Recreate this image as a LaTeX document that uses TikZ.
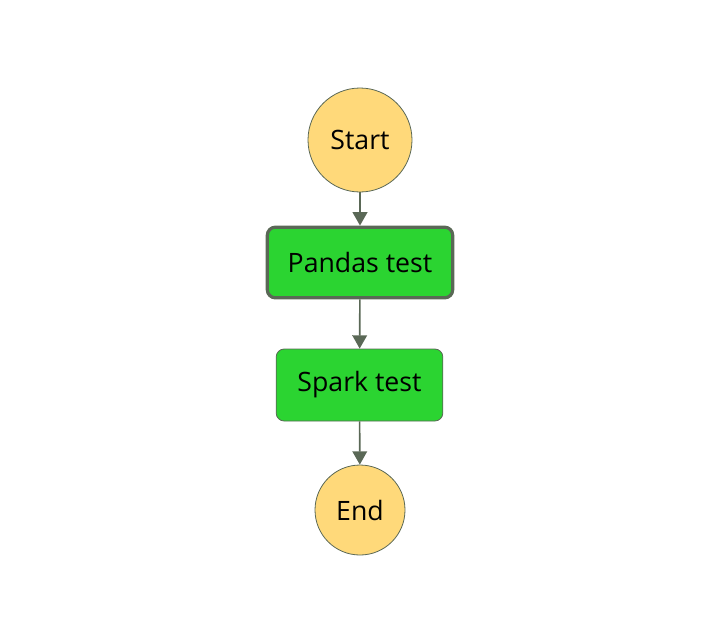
\documentclass[tikz,border=0pt]{standalone}
\usepackage{fontspec}
\setmainfont{Open Sans}
\usetikzlibrary{arrows.meta}
\definecolor{startyellow}{HTML}{FFD97A}
\definecolor{taskgreen}{HTML}{2BD431}
\definecolor{edgegray}{HTML}{5A6856}
\tikzset{
  terminal/.style={circle, draw=edgegray, fill=startyellow, line width=0.6pt, inner sep=0pt, font=\fontsize{20}{24}\selectfont},
  task/.style={rectangle, rounded corners=6pt, draw=edgegray, fill=taskgreen, line width=0.6pt, font=\fontsize{20}{24}\selectfont},
  flow/.style={draw=edgegray, line width=1.2pt, -{Triangle[length=10pt,width=11pt]}}
}
\begin{document}
\begin{tikzpicture}[x=0.75pt,y=-0.75pt]

\useasboundingbox (0,0) rectangle (716,640);

\node[terminal, minimum size=78pt] (start) at (360,140) {Start};
\node[task, minimum width=139pt, minimum height=53pt, line width=2.4pt] (pandas) at (360,262.5) {Pandas test};
\node[task, minimum width=125pt, minimum height=54pt] (spark) at (359.5,385) {Spark test};
\node[terminal, minimum size=67.5pt] (end) at (360,510) {End};

\draw[flow] (start) -- (pandas);
\draw[flow] (pandas) -- (spark);
\draw[flow] (spark) -- (end);

\end{tikzpicture}
\end{document}
